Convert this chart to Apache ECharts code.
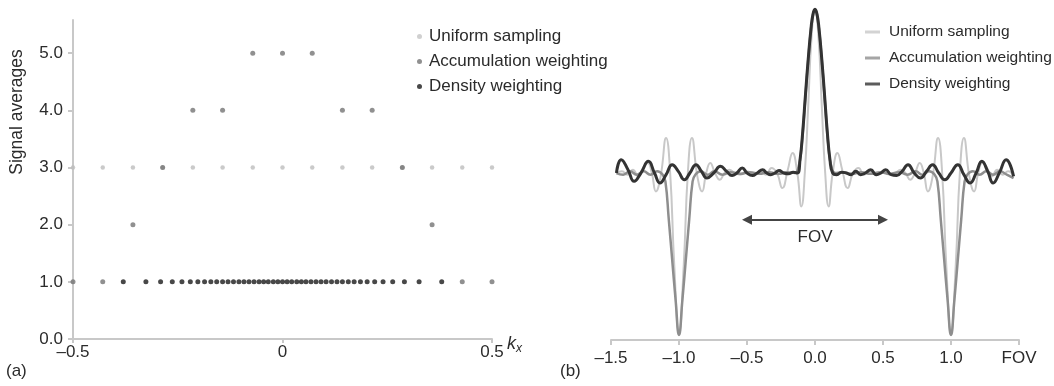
<!DOCTYPE html>
<html>
<head>
	<meta charset="utf-8"/>
	<title>Signal averages and PSF</title>
	<style>
		html, body { margin: 0; padding: 0; background: #fff; }
		#chart { width: 1054px; height: 386px; }
	</style>
</head>
<body>

	<div id="chart"></div>

	<script src="https://cdn.jsdelivr.net/npm/echarts@6/dist/echarts.min.js"></script>
	<script>

		// (a) sampling positions in k-space and their signal averages
		var uniformK = [-0.5, -0.429, -0.357, -0.286, -0.214, -0.143, -0.071, 0, 0.071, 0.143, 0.214, 0.286, 0.357, 0.429, 0.5];
		var uniformAvg = [3, 3, 3, 3, 3, 3, 3, 3, 3, 3, 3, 3, 3, 3, 3];
		var accumAvg = [1, 1, 2, 3, 4, 4, 5, 5, 5, 4, 4, 3, 2, 1, 1];
		var densityK = [
			-0.380, -0.326, -0.291, -0.263, -0.240, -0.220, -0.202, -0.186, -0.171, -0.157, -0.143,
			-0.130, -0.117, -0.104, -0.092, -0.080, -0.068, -0.056, -0.045, -0.034, -0.022, -0.011,
			0,
			0.011, 0.022, 0.034, 0.045, 0.056, 0.068, 0.080, 0.092, 0.104, 0.117, 0.130,
			0.143, 0.157, 0.171, 0.186, 0.202, 0.220, 0.240, 0.263, 0.291, 0.326, 0.380
		];
		var densityAvg = [
			1, 1, 1, 1, 1, 1, 1, 1, 1, 1, 1, 1, 1, 1, 1, 1, 1, 1, 1, 1, 1, 1, 1,
			1, 1, 1, 1, 1, 1, 1, 1, 1, 1, 1, 1, 1, 1, 1, 1, 1, 1, 1, 1, 1, 1
		];

		// (b) point spread functions, x in FOV
		var psfUniform = [
			[-1.46, 1.00], [-1.42, 1.01], [-1.38, 0.99], [-1.34, 1.02], [-1.30, 0.98], [-1.265, 1.03],
			[-1.23, 1.06], [-1.20, 1.00], [-1.17, 0.89], [-1.135, 0.98], [-1.095, 1.21], [-1.065, 1.00],
			[-1.035, 0.45], [-1.00, 0.04], [-0.965, 0.45], [-0.935, 1.00], [-0.905, 1.21], [-0.865, 0.98],
			[-0.83, 0.89], [-0.80, 1.00], [-0.77, 1.06], [-0.735, 1.00], [-0.70, 0.96], [-0.665, 1.00],
			[-0.63, 1.02], [-0.59, 1.00], [-0.55, 0.99], [-0.50, 1.01], [-0.45, 0.99], [-0.40, 1.01],
			[-0.36, 0.99], [-0.32, 1.03], [-0.28, 1.00], [-0.24, 0.91], [-0.20, 1.02], [-0.165, 1.12],
			[-0.13, 1.00], [-0.10, 0.80], [-0.075, 1.00], [-0.05, 1.40], [-0.025, 1.82], [0, 1.98],
			[0.025, 1.82], [0.05, 1.40], [0.075, 1.00], [0.10, 0.80], [0.13, 1.00], [0.165, 1.12],
			[0.20, 1.02], [0.24, 0.91], [0.28, 1.00], [0.32, 1.03], [0.36, 0.99], [0.40, 1.01],
			[0.45, 0.99], [0.50, 1.01], [0.55, 0.99], [0.59, 1.00], [0.63, 1.02], [0.665, 1.00],
			[0.70, 0.96], [0.735, 1.00], [0.77, 1.06], [0.80, 1.00], [0.83, 0.89], [0.865, 0.98],
			[0.905, 1.21], [0.935, 1.00], [0.965, 0.45], [1.00, 0.04], [1.035, 0.45], [1.065, 1.00],
			[1.095, 1.21], [1.135, 0.98], [1.17, 0.89], [1.20, 1.00], [1.23, 1.06], [1.265, 1.03],
			[1.30, 0.98], [1.34, 1.02], [1.38, 0.99], [1.42, 1.01], [1.46, 0.98]
		];
		var psfAccum = [
			[-1.46, 1.00], [-1.41, 0.99], [-1.36, 1.01], [-1.31, 0.99], [-1.26, 1.01], [-1.21, 0.99],
			[-1.16, 1.01], [-1.12, 0.99], [-1.10, 0.95], [-1.075, 0.72], [-1.05, 0.48], [-1.025, 0.24],
			[-1.00, 0.03], [-0.975, 0.24], [-0.95, 0.48], [-0.925, 0.72], [-0.90, 0.95], [-0.88, 0.99],
			[-0.84, 1.01], [-0.79, 0.99], [-0.74, 1.01], [-0.68, 0.99], [-0.62, 1.005], [-0.55, 0.995],
			[-0.48, 1.005], [-0.41, 0.995], [-0.34, 1.005], [-0.27, 0.995], [-0.20, 1.005], [-0.15, 1.00],
			[-0.12, 1.04], [-0.10, 1.15], [-0.08, 1.35], [-0.06, 1.57], [-0.04, 1.77], [-0.02, 1.92],
			[0, 1.98],
			[0.02, 1.92], [0.04, 1.77], [0.06, 1.57], [0.08, 1.35], [0.10, 1.15], [0.12, 1.04],
			[0.15, 1.00], [0.20, 1.005], [0.27, 0.995], [0.34, 1.005], [0.41, 0.995], [0.48, 1.005],
			[0.55, 0.995], [0.62, 1.005], [0.68, 0.99], [0.74, 1.01], [0.79, 0.99], [0.84, 1.01],
			[0.88, 0.99], [0.90, 0.95], [0.925, 0.72], [0.95, 0.48], [0.975, 0.24], [1.00, 0.03],
			[1.025, 0.24], [1.05, 0.48], [1.075, 0.72], [1.10, 0.95], [1.12, 0.99], [1.16, 1.01],
			[1.21, 0.99], [1.26, 1.01], [1.31, 0.99], [1.36, 1.01], [1.41, 0.99], [1.46, 0.97]
		];
		var psfDensity = [
			[-1.46, 1.00], [-1.425, 1.08], [-1.375, 1.02], [-1.33, 0.95], [-1.28, 1.00], [-1.225, 1.07],
			[-1.18, 1.00], [-1.14, 0.94], [-1.095, 0.99], [-1.05, 1.05], [-1.005, 1.01], [-0.96, 0.96],
			[-0.92, 1.00], [-0.875, 1.05], [-0.835, 1.01], [-0.795, 0.97], [-0.745, 1.00], [-0.695, 1.04],
			[-0.65, 1.01], [-0.61, 0.985], [-0.575, 1.00], [-0.535, 1.03], [-0.50, 1.00], [-0.46, 0.985],
			[-0.425, 1.00], [-0.385, 1.02], [-0.355, 1.00], [-0.325, 0.99], [-0.295, 1.00], [-0.265, 1.015],
			[-0.23, 1.00], [-0.195, 0.995], [-0.16, 1.005], [-0.13, 1.00], [-0.11, 1.08], [-0.09, 1.25],
			[-0.07, 1.47], [-0.05, 1.68], [-0.03, 1.86], [-0.015, 1.95], [0, 1.98],
			[0.015, 1.95], [0.03, 1.86], [0.05, 1.68], [0.07, 1.47], [0.09, 1.25], [0.11, 1.08],
			[0.13, 1.00], [0.16, 0.99], [0.195, 1.005], [0.23, 1.00], [0.265, 0.99], [0.30, 1.01],
			[0.335, 0.99], [0.37, 1.00], [0.41, 1.02], [0.45, 0.99], [0.485, 1.00], [0.52, 1.02],
			[0.56, 0.99], [0.60, 0.985], [0.64, 1.01], [0.684, 1.05], [0.73, 1.00], [0.775, 0.97],
			[0.82, 1.01], [0.865, 1.05], [0.91, 1.00], [0.955, 0.96], [1.00, 1.00], [1.05, 1.05],
			[1.095, 0.99], [1.14, 0.94], [1.185, 1.00], [1.227, 1.07], [1.27, 1.01], [1.31, 0.94],
			[1.355, 1.00], [1.405, 1.08], [1.46, 0.98]
		];

		var seriesNames = ['Uniform sampling', 'Accumulation weighting', 'Density weighting'];
		var fovArrowY = 0.72;

		var FONT = '"Liberation Sans", Arial, Helvetica, sans-serif';
		var TXT = '#2b2b2b';
		var AXIS = '#c8c8c8';

		function dash (s) {
			return s.replace('-', '\u2013');
		}

		function pairs (xs, ys) {
			var out = [];
			for (var i = 0; i < xs.length; i++) {
				out.push([xs[i], ys[i]]);
			}
			return out;
		}

		var myChart = echarts.init(document.getElementById('chart'));

		var option = {
			animation: false,
			textStyle: { fontFamily: FONT },
			grid: [
				{ left: 73, right: 562, top: 20, bottom: 47 },
				{ left: 611, right: 35, top: 0, bottom: 46 }
			],
			legend: [
				{
					orient: 'vertical',
					left: 417,
					top: 28,
					padding: 0,
					itemGap: 8,
					itemWidth: 9,
					itemHeight: 5,
					icon: 'circle',
					textStyle: { fontSize: 17, color: TXT, lineHeight: 17, fontFamily: FONT },
					data: [
						{ name: seriesNames[0], itemStyle: { color: '#c4c4c4' } },
						{ name: seriesNames[1], itemStyle: { color: '#747474' } },
						{ name: seriesNames[2], itemStyle: { color: '#1a1a1a' } }
					]
				},
				{
					orient: 'vertical',
					left: 865,
					top: 24,
					padding: 0,
					itemGap: 10,
					itemWidth: 15,
					itemHeight: 3,
					icon: 'rect',
					textStyle: { fontSize: 15.5, color: TXT, lineHeight: 16, padding: [0, 0, 0, 4], fontFamily: FONT },
					data: [
						{ name: seriesNames[0], itemStyle: { color: '#c8c8c8' } },
						{ name: seriesNames[1], itemStyle: { color: '#8e8e8e' } },
						{ name: seriesNames[2], itemStyle: { color: '#333333' } }
					]
				}
			],
			xAxis: [
				{
					type: 'value',
					gridIndex: 0,
					min: -0.5,
					max: 0.5,
					interval: 0.5,
					splitLine: { show: false },
					axisLine: { onZero: false, lineStyle: { color: AXIS, width: 2 } },
					axisTick: { show: true, length: 4, lineStyle: { color: AXIS, width: 2 } },
					axisLabel: {
						margin: 5,
						fontSize: 17,
						color: TXT,
						formatter: function (v) {
							return v === 0 ? '0' : dash(v.toFixed(1));
						}
					}
				},
				{
					type: 'value',
					gridIndex: 1,
					min: -1.5,
					max: 1.5,
					interval: 0.5,
					splitLine: { show: false },
					axisLine: { onZero: false, lineStyle: { color: AXIS, width: 2 } },
					axisTick: { show: true, length: 5, lineStyle: { color: AXIS, width: 2 } },
					axisLabel: {
						margin: 10,
						fontSize: 17,
						color: TXT,
						formatter: function (v) {
							return v === 1.5 ? 'FOV' : dash(v.toFixed(1));
						}
					}
				}
			],
			yAxis: [
				{
					type: 'value',
					gridIndex: 0,
					min: 0,
					max: 5.58,
					interval: 1,
					splitLine: { show: false },
					axisLine: { show: true, onZero: false, lineStyle: { color: AXIS, width: 2 } },
					axisTick: { show: true, length: 5, customValues: [0, 1, 2, 3, 4, 5], lineStyle: { color: AXIS, width: 2 } },
					axisLabel: {
						margin: 10,
						fontSize: 17,
						color: TXT,
						customValues: [0, 1, 2, 3, 4, 5],
						formatter: function (v) { return v.toFixed(1); }
					}
				},
				{
					type: 'value',
					gridIndex: 1,
					min: 0,
					max: 2.036,
					show: false
				}
			],
			series: [
				{
					name: seriesNames[0],
					type: 'scatter',
					xAxisIndex: 0, yAxisIndex: 0,
					symbolSize: 4.5,
					itemStyle: { color: '#bdbdbd' },
					data: pairs(uniformK, uniformAvg)
				},
				{
					name: seriesNames[1],
					type: 'scatter',
					xAxisIndex: 0, yAxisIndex: 0,
					symbolSize: 5,
					itemStyle: { color: '#747474' },
					data: pairs(uniformK, accumAvg)
				},
				{
					name: seriesNames[2],
					type: 'scatter',
					xAxisIndex: 0, yAxisIndex: 0,
					symbolSize: 5,
					itemStyle: { color: '#1a1a1a' },
					data: pairs(densityK, densityAvg)
				},
				{
					name: seriesNames[0],
					type: 'line',
					xAxisIndex: 1, yAxisIndex: 1,
					smooth: true,
					showSymbol: false,
					lineStyle: { color: '#c8c8c8', width: 2 },
					itemStyle: { color: '#c8c8c8' },
					data: psfUniform
				},
				{
					name: seriesNames[1],
					type: 'line',
					xAxisIndex: 1, yAxisIndex: 1,
					smooth: true,
					showSymbol: false,
					lineStyle: { color: '#8e8e8e', width: 2.5 },
					itemStyle: { color: '#8e8e8e' },
					data: psfAccum,
					markLine: {
						silent: true,
						symbol: ['triangle', 'triangle'],
						symbolSize: 10,
						lineStyle: { color: '#444', width: 2, type: 'solid' },
						label: {
							show: true,
							position: 'insideMiddleBottom',
							distance: 9,
							formatter: 'FOV',
							fontSize: 17,
							color: TXT,
							fontFamily: FONT
						},
						data: [
							[{ coord: [-0.5, fovArrowY] }, { coord: [0.5, fovArrowY] }]
						]
					}
				},
				{
					name: seriesNames[2],
					type: 'line',
					xAxisIndex: 1, yAxisIndex: 1,
					smooth: true,
					showSymbol: false,
					lineStyle: { color: '#333333', width: 3 },
					itemStyle: { color: '#333333' },
					data: psfDensity
				}
			],
			graphic: [
				{
					type: 'text',
					x: 17, y: 112,
					rotation: Math.PI / 2,
					style: {
						text: 'Signal averages',
						font: '17.5px ' + FONT,
						fill: TXT,
						align: 'center',
						verticalAlign: 'middle'
					}
				},
				{
					type: 'text',
					x: 507, y: 333,
					style: {
						text: '{k|k}{s|x}',
						fill: TXT,
						rich: {
							k: { fontSize: 18, fontStyle: 'italic', fontFamily: FONT, fill: TXT },
							s: { fontSize: 12, fontStyle: 'italic', fontFamily: FONT, fill: TXT, padding: [10, 0, 0, 0] }
						}
					}
				},
				{
					type: 'text',
					x: 6, y: 371,
					style: { text: '(a)', font: '17px ' + FONT, fill: TXT, verticalAlign: 'middle' }
				},
				{
					type: 'text',
					x: 560, y: 371,
					style: { text: '(b)', font: '17px ' + FONT, fill: TXT, verticalAlign: 'middle' }
				}
			]
		};

		myChart.setOption(option);

	</script>
</body>
</html>
